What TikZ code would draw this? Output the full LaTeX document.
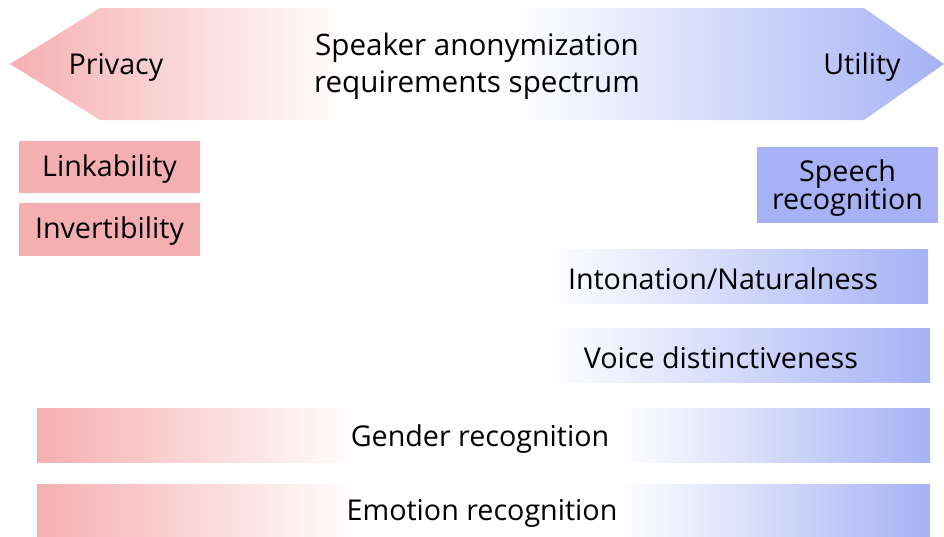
\documentclass[tikz,border=0pt]{standalone}
\usepackage{fontspec}
\setmainfont{Open Sans}
\definecolor{pk}{HTML}{F5AFB1}
\definecolor{bl}{HTML}{A6B2F5}
\pgfdeclarehorizontalshading{arrowshade}{100bp}{color(0bp)=(pk); color(25bp)=(pk); color(43bp)=(white); color(52bp)=(white); color(75bp)=(bl); color(100bp)=(bl)}
\pgfdeclarehorizontalshading{barshade}{100bp}{color(0bp)=(pk); color(25bp)=(pk); color(43bp)=(white); color(57.5bp)=(white); color(75bp)=(bl); color(100bp)=(bl)}
\pgfdeclarehorizontalshading{rightshade}{100bp}{color(0bp)=(white); color(25bp)=(white); color(27bp)=(white); color(75bp)=(bl); color(100bp)=(bl)}
\tikzset{
  lbl/.style={font=\fontsize{21.5}{27}\selectfont, text=black, inner sep=0pt},
  boxbase/.style={lbl, draw=none, minimum height=#1*0.75pt},
  pinkbox/.style={boxbase=#1, fill=pk},
  bluebox/.style={boxbase=#1, fill=bl},
}
\begin{document}
\begin{tikzpicture}[x=0.75pt,y=-0.75pt]
\useasboundingbox (0,0) rectangle (944,536);
% spectrum arrow
\path[shading=arrowshade] (10,64) -- (100,8) -- (864,8) -- (944,64) -- (864,120) -- (100,120) -- cycle;
\node[lbl] (privacy) at (116,67.5) {Privacy};
\node[lbl] (utility) at (862,67.5) {Utility};
\node[lbl, align=center, font=\fontsize{22.2}{27.5}\selectfont] (title) at (477,66) {Speaker anonymization\\requirements spectrum};
% privacy boxes
\path[fill=pk] (19,141) rectangle (200,193);
\node[lbl] (link) at (109.5,169) {Linkability};
\path[fill=pk] (19,203) rectangle (200,256);
\node[lbl] (inv) at (109.5,231.5) {Invertibility};
% speech recognition
\path[fill=bl] (757,147) rectangle (938,223);
\node[lbl, align=center, font=\fontsize{21.5}{21}\selectfont] (asr) at (847.5,188) {Speech\\recognition};
% utility-side bars
\path[shading=rightshade] (530,249) rectangle (928,303);
\node[lbl] (inton) at (723,279) {Intonation/Naturalness};
\path[shading=rightshade] (530,328) rectangle (930,382);
\node[lbl] (voice) at (721,358) {Voice distinctiveness};
% full bars
\path[shading=barshade] (37,408) rectangle (930,462);
\node[lbl] (gender) at (480,439.5) {Gender recognition};
\path[shading=barshade] (37,484) rectangle (930,536);
\node[lbl] (emotion) at (482,513.5) {Emotion recognition};
\end{tikzpicture}
\end{document}
